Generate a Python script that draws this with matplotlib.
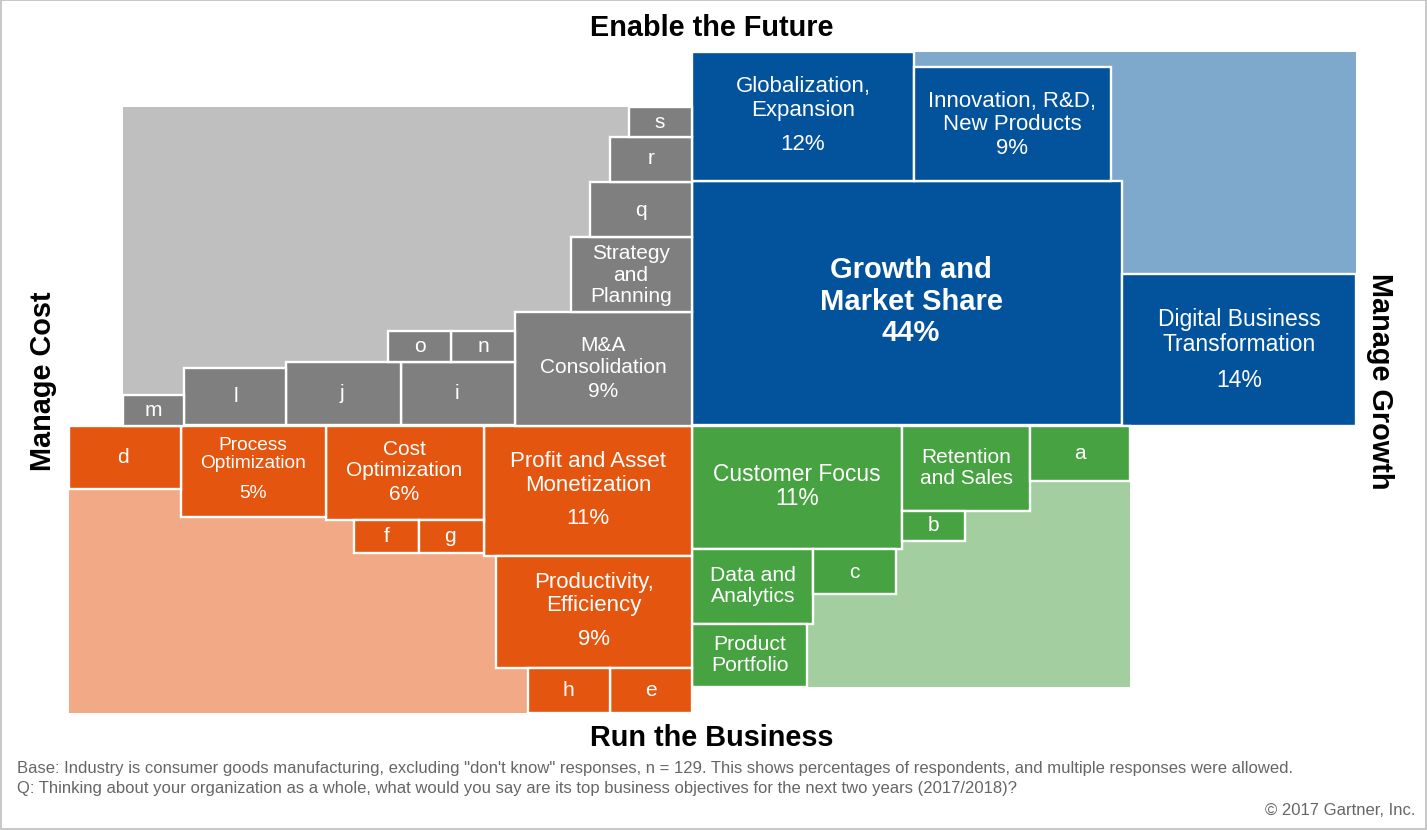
import matplotlib
matplotlib.use("Agg")
import matplotlib.pyplot as plt
from matplotlib.patches import Rectangle

plt.rcParams['font.family'] = ['Liberation Sans', 'DejaVu Sans']

# ---------------- data ----------------
quadrant_titles = ["Enable the Future", "Run the Business", "Manage Cost", "Manage Growth"]

objectives = ["Growth and\nMarket Share", "Digital Business\nTransformation", "Globalization,\nExpansion",
              "Innovation, R&D,\nNew Products",
              "Customer Focus", "Retention\nand Sales", "Data and\nAnalytics", "Product\nPortfolio",
              "a", "b", "c",
              "Profit and Asset\nMonetization", "Productivity,\nEfficiency", "Cost\nOptimization",
              "Process\nOptimization", "d", "e", "f", "g", "h",
              "M&A\nConsolidation", "Strategy\nand\nPlanning", "i", "j", "l", "m", "n", "o", "q", "r", "s"]
percent = [44, 14, 12, 9,
           11, None, None, None, None, None, None,
           11, 9, 6, 5, None, None, None, None, None,
           9, None, None, None, None, None, None, None, None, None, None]
group = ["growth"] * 4 + ["customer"] * 7 + ["cost"] * 9 + ["strategy"] * 11

footnote_base = ('Base: Industry is consumer goods manufacturing, excluding "don\'t know" responses, n = 129. '
                 'This shows percentages of respondents, and multiple responses were allowed.')
footnote_q = ('Q: Thinking about your organization as a whole, what would you say are its top business '
              'objectives for the next two years (2017/2018)?')
copyright_txt = "\u00a9 2017 Gartner, Inc."

# ---------------- styles / layout (pixel space) ----------------
dark = {"growth": "#02529C", "customer": "#47A241", "cost": "#E4550F", "strategy": "#7F7F7F"}
light = {"growth": "#7FA8CD", "customer": "#A3CFA0", "cost": "#F2A986", "strategy": "#BFBFBF"}
background = {"growth": (913.5, 52, 1356, 275), "customer": (807, 481, 1129.5, 686.5),
              "cost": (68.5, 425.5, 528, 712.5), "strategy": (122.5, 107.5, 692, 425.5)}

# rect (x0, y0, x1, y1), text centre x, name centre y, pct y, font size, bold
layout = {
    "Growth and\nMarket Share": ((692, 181.5, 1122, 425.5), 911, 286, 333, 21, True),
    "Digital Business\nTransformation": ((1122, 274, 1356, 425.5), 1239, 332, 380, 16.5, False),
    "Globalization,\nExpansion": ((692, 52, 913.5, 181.5), 803, 98.5, 144, 16, False),
    "Innovation, R&D,\nNew Products": ((913.5, 67, 1111, 181.5), 1012, 113, 148, 16, False),
    "Customer Focus": ((692, 425.5, 902, 549), 797, 474, 498, 16.4, False),
    "Retention\nand Sales": ((902, 425.5, 1030, 511), 966, 468, None, 15, False),
    "Data and\nAnalytics": ((692, 549, 813, 624), 753, 586, None, 15.2, False),
    "Product\nPortfolio": ((692, 624, 807, 686.5), 750, 655, None, 15.2, False),
    "a": ((1030, 425.5, 1129.5, 481), 1080, 453, None, 15, False),
    "b": ((902, 511, 965, 541), 933, 525, None, 15, False),
    "c": ((813, 549, 896, 594), 854, 572, None, 15, False),
    "Profit and Asset\nMonetization": ((484, 425.5, 692, 556), 588, 473.5, 518, 16, False),
    "Productivity,\nEfficiency": ((496, 556, 692, 668), 594, 594, 639, 16, False),
    "Cost\nOptimization": ((326, 425.5, 484, 520), 404, 460, 494, 15, False),
    "Process\nOptimization": ((180.5, 425.5, 326, 516.5), 253, 454.5, 493, 13.8, False),
    "d": ((68.5, 425.5, 180.5, 489), 123, 457, None, 15, False),
    "e": ((610, 668, 692, 712.5), 651, 690, None, 15, False),
    "f": ((354, 520, 419, 553), 387, 536, None, 15, False),
    "g": ((419, 520, 484, 553), 450, 536, None, 15, False),
    "h": ((528, 668, 610, 712.5), 568, 690, None, 15, False),
    "M&A\nConsolidation": ((514.5, 312, 692, 425.5), 603, 356.5, 391, 15, False),
    "Strategy\nand\nPlanning": ((571, 237, 692, 312), 631, 275, None, 15, False),
    "i": ((400.5, 362, 514.5, 425.5), 457, 393, None, 15, False),
    "j": ((286, 362, 400.5, 425.5), 342, 393, None, 15, False),
    "l": ((184, 368, 286, 425.5), 236, 396, None, 15, False),
    "m": ((122.5, 395, 184, 425.5), 153, 410, None, 15, False),
    "n": ((451, 331, 514.5, 362), 483, 346, None, 15, False),
    "o": ((388, 331, 451, 362), 420, 346, None, 15, False),
    "q": ((590, 182, 692, 237), 641, 210, None, 15, False),
    "r": ((610, 137, 692, 182), 651, 159, None, 15, False),
    "s": ((629, 107, 692, 137), 660, 122, None, 15, False),
}

W, H = 1427, 830
fig = plt.figure(figsize=(W / 100, H / 100), dpi=100)
ax = fig.add_axes([0, 0, 1, 1])
ax.set_xlim(0, W)
ax.set_ylim(H, 0)
ax.axis("off")

# outer frame
ax.add_patch(Rectangle((0.5, 0.5), W - 1.5, H - 1.5, fill=False, edgecolor="#BFBFBF", lw=1.2))

# light backgrounds
for g, (x0, y0, x1, y1) in background.items():
    ax.add_patch(Rectangle((x0, y0), x1 - x0, y1 - y0, facecolor=light[g], edgecolor="none", zorder=1))

# boxes
for name, pct, g in zip(objectives, percent, group):
    (x0, y0, x1, y1), cx, cy, py, fs, bold = layout[name]
    ax.add_patch(Rectangle((x0, y0), x1 - x0, y1 - y0, facecolor=dark[g], edgecolor="white",
                           lw=1.7, zorder=2))
    fw = "bold" if bold else "normal"
    ax.text(cx, cy, name, ha="center", va="center", color="white", fontsize=fs, fontweight=fw,
            linespacing=1.15, zorder=3)
    if pct is not None:
        ax.text(cx, py, f"{pct}%", ha="center", va="center", color="white", fontsize=fs,
                fontweight=fw, zorder=3)

# quadrant titles
ax.text(712, 28.5, quadrant_titles[0], ha="center", va="center", fontsize=20.8, fontweight="bold")
ax.text(712, 737.5, quadrant_titles[1], ha="center", va="center", fontsize=20.8, fontweight="bold")
ax.text(43, 381, quadrant_titles[2], ha="center", va="center", fontsize=20.8, fontweight="bold", rotation=90)
ax.text(1380, 381, quadrant_titles[3], ha="center", va="center", fontsize=20.8, fontweight="bold", rotation=-90)

# footnotes
ax.text(17, 768, footnote_base, ha="left", va="center", fontsize=12, color="#666666")
ax.text(17, 788, footnote_q, ha="left", va="center", fontsize=12, color="#666666")
ax.text(1415, 810, copyright_txt, ha="right", va="center", fontsize=12, color="#666666")

fig.savefig("out.png", dpi=100)
